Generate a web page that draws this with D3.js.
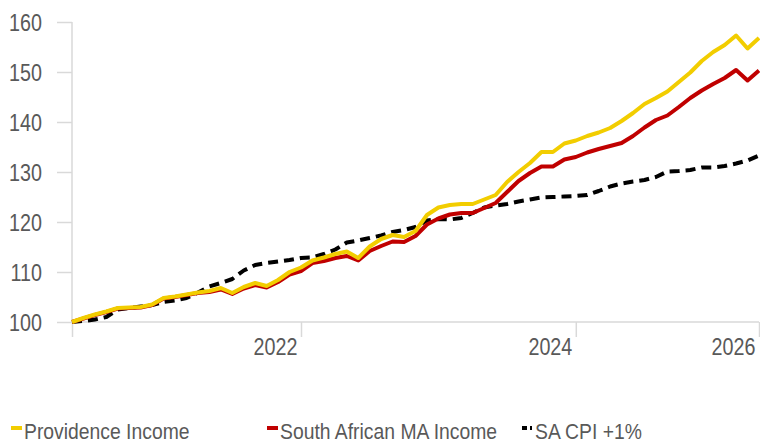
<!DOCTYPE html>
<meta charset="utf-8">
<style>
body { margin: 0; background: #fff; }
svg text { font-family: "Liberation Sans", Arial, sans-serif; fill: #595959; }
.axis text { font-size: 23.5px; }
.legend_text { font-size: 22.5px; }
</style>
<svg width="760" height="444"></svg>
<script src="https://d3js.org/d3.v7.min.js"></script>
<script>

// monthly index, 61 points
var tickIdx = [0, 20, 44, 60];
var tickLabels = ["", "2022", "2024", "2026"];
var yTicks = [100, 110, 120, 130, 140, 150, 160];

var providence = [100, 100.8, 101.5, 102.1, 102.8, 102.9, 103.0, 103.5, 104.8, 105.1,
  105.5, 105.9, 106.2, 106.8, 105.8, 107.0, 107.8, 107.2, 108.4, 110.0,
  110.9, 112.3, 112.9, 113.6, 114.1, 112.8, 115.1, 116.6, 117.4, 117.0,
  118.2, 121.4, 122.9, 123.4, 123.6, 123.6, 124.5, 125.4, 128.0, 130.0,
  131.8, 134.0, 134.0, 135.7, 136.3, 137.2, 137.9, 138.8, 140.2, 141.8,
  143.6, 144.8, 146.1, 148.0, 149.9, 152.2, 154.0, 155.4, 157.3, 154.7, 156.8];

var saMaIncome = [100, 100.7, 101.4, 102.0, 102.7, 102.8, 102.9, 103.4, 104.7, 105.0,
  105.4, 105.8, 106.0, 106.5, 105.6, 106.7, 107.4, 106.9, 108.0, 109.5,
  110.2, 111.8, 112.2, 112.8, 113.2, 112.3, 114.2, 115.2, 116.1, 116.0,
  117.2, 119.5, 120.7, 121.5, 121.8, 121.8, 122.8, 123.8, 126.0, 128.2,
  129.8, 131.1, 131.1, 132.5, 133.0, 133.9, 134.6, 135.2, 135.8, 137.2,
  138.9, 140.4, 141.3, 143.0, 144.8, 146.3, 147.6, 148.8, 150.4, 148.3, 150.3];

var cpiPlus1 = [100, 100.2, 100.5, 101.0, 102.5, 102.8, 103.1, 103.4, 104.0, 104.3,
  104.8, 105.9, 107.1, 107.8, 108.6, 110.3, 111.4, 111.8, 112.1, 112.4,
  112.8, 112.9, 113.6, 114.5, 115.9, 116.3, 116.8, 117.3, 118.0, 118.4,
  119.0, 120.3, 120.6, 120.5, 120.8, 121.8, 122.9, 123.3, 123.6, 124.1,
  124.5, 124.9, 125.0, 125.1, 125.2, 125.4, 126.2, 127.1, 127.7, 128.1,
  128.4, 129.0, 130.1, 130.2, 130.4, 130.9, 130.9, 131.2, 131.7, 132.3, 133.3];

var seriesNames = ["Providence Income", "South African MA Income", "SA CPI +1%"];
var seriesColors = ["#f2cd00", "#c00000", "#000000"];

var svg = d3.select("svg"),
    margin = {top: 22, right: 1, bottom: 122, left: 72},
    width = +svg.attr("width") - margin.left - margin.right,
    height = +svg.attr("height") - margin.top - margin.bottom,
    g = svg.append("g").attr("transform", "translate(" + margin.left + "," + margin.top + ")");

// the reference uses a condensed face; squeeze a regular one
var squeeze = 0.84;
var legendSqueeze = 0.86;

var x = d3.scaleLinear().domain([0, providence.length - 1]).range([0, width]);
var y = d3.scaleLinear().domain([100, 160]).range([height, 0]);

var gridColor = "#d9d9d9";

var yAxis = g.append("g")
    .attr("class", "axis")
    .call(d3.axisLeft(y).tickValues(yTicks).tickSize(15));
yAxis.selectAll("line, path").attr("stroke", gridColor).attr("stroke-width", 1.5);
yAxis.select(".domain").attr("d", "M0," + y(160) + "V" + height);
yAxis.selectAll("text")
    .attr("x", -30 / squeeze)
    .attr("dy", "0.36em")
    .attr("transform", "scale(" + squeeze + ",1)");

var xAxis = g.append("g")
    .attr("class", "axis")
    .attr("transform", "translate(0," + height + ")")
    .call(d3.axisBottom(x).tickValues(tickIdx).tickSize(15).tickPadding(1)
      .tickFormat(function(d, i) { return tickLabels[i]; }));
xAxis.selectAll("line, path").attr("stroke", gridColor).attr("stroke-width", 1.5);
xAxis.select(".domain").attr("d", "M0,0H" + width);
xAxis.selectAll("text")
    .attr("text-anchor", "end")
    .attr("x", -4 / squeeze)
    .attr("dy", "0.71em")
    .attr("transform", "scale(" + squeeze + ",1)");

var line = d3.line()
    .x(function(d, i) { return x(i); })
    .y(function(d) { return y(d); });

var data = [providence, saMaIncome, cpiPlus1];

[2, 1, 0].forEach(function(k) {
  g.append("path")
    .datum(data[k])
    .attr("fill", "none")
    .attr("stroke", seriesColors[k])
    .attr("stroke-width", 4)
    .attr("stroke-linejoin", "round")
    .attr("stroke-dasharray", k == 2 ? "10,6" : null)
    .attr("d", line);
});

// legend
var legendX = [11, 267, 522];
seriesNames.forEach(function(name, k) {
  var lg = svg.append("g").attr("transform", "translate(" + legendX[k] + ",428)");
  if (k == 2) {
    lg.append("rect").attr("x", 0).attr("y", -2).attr("width", 5).attr("height", 4).attr("fill", "#000");
    lg.append("rect").attr("x", 8).attr("y", -2).attr("width", 2).attr("height", 4).attr("fill", "#000");
  } else {
    lg.append("line")
      .attr("x1", 0).attr("x2", 11)
      .attr("stroke", seriesColors[k])
      .attr("stroke-width", 4);
  }
  lg.append("text")
    .attr("class", "legend_text")
    .attr("x", 13 / legendSqueeze)
    .attr("y", 11)
    .attr("transform", "scale(" + legendSqueeze + ",1)")
    .text(name);
});
</script>
